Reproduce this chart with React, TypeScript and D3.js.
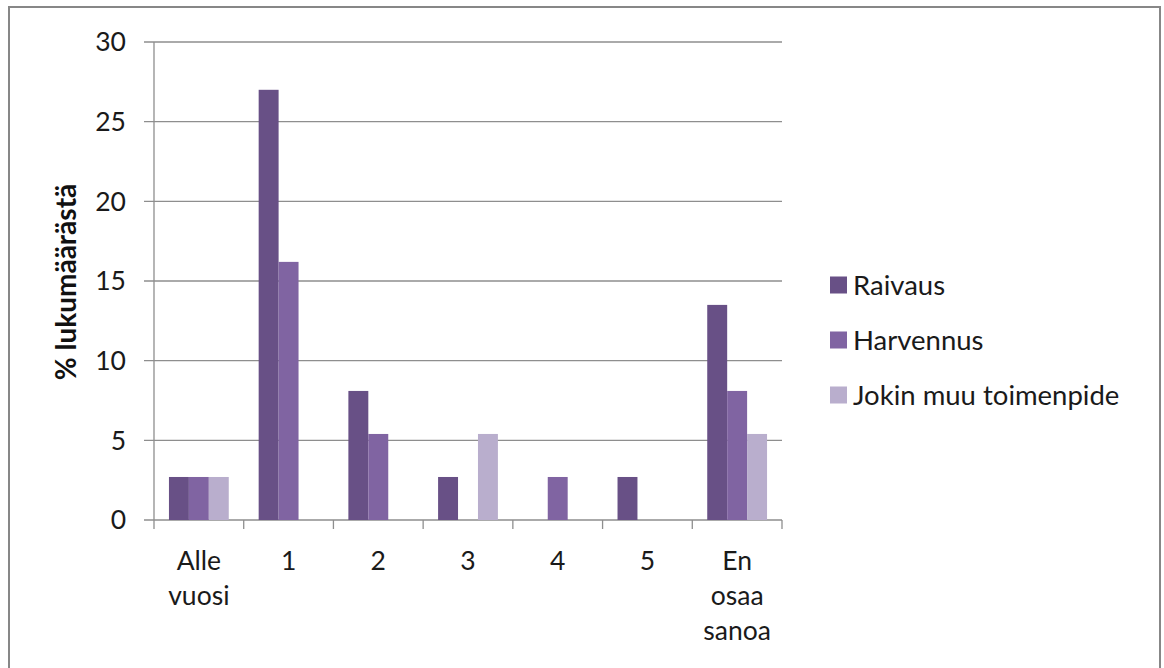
import React from "react";
import * as d3 from "d3";

const categories = ["Alle vuosi", "1", "2", "3", "4", "5", "En osaa sanoa"];
const seriesNames = ["Raivaus", "Harvennus", "Jokin muu toimenpide"];
const raivaus = [2.7, 27.0, 8.1, 2.7, 0, 2.7, 13.5];
const harvennus = [2.7, 16.2, 5.4, 0, 2.7, 0, 8.1];
const jokin = [2.7, 0, 0, 5.4, 0, 0, 5.4];
const yTicks = [0, 5, 10, 15, 20, 25, 30];
const colors = ["#685086", "#8064A2", "#B9AECD"];

const font = "Lato, 'Open Sans', sans-serif";

const App: React.FC = () => {
  const width = 1164;
  const height = 668;
  const plot = { left: 154, right: 782, top: 42, bottom: 520 };

  const x = d3
    .scaleBand<string>()
    .domain(categories)
    .range([plot.left, plot.right])
    .padding(0);
  const inner = d3
    .scaleBand<string>()
    .domain(seriesNames)
    .range([0, x.bandwidth()])
    .paddingInner(0)
    .paddingOuter(0.75);
  const y = d3.scaleLinear().domain([0, 30]).range([plot.bottom, plot.top]);

  const series = [raivaus, harvennus, jokin];
  const gridColor = "#8e8e8e";

  return (
    <svg
      width={width}
      height={height}
      style={{ position: "absolute", left: 0, top: 0, background: "#fff" }}
    >
      <rect
        x={9}
        y={7}
        width={1151}
        height={720}
        fill="none"
        stroke="#878787"
        strokeWidth={2}
      />

      {/* gridlines */}
      {yTicks.map((t) => (
        <line
          key={"g" + t}
          x1={plot.left - 10}
          x2={plot.right}
          y1={y(t)}
          y2={y(t)}
          stroke={gridColor}
          strokeWidth={1.3}
        />
      ))}
      {/* y axis */}
      <line
        x1={plot.left}
        x2={plot.left}
        y1={plot.top}
        y2={plot.bottom}
        stroke={gridColor}
        strokeWidth={1.3}
      />
      {yTicks.map((t) => (
        <text
          key={"yl" + t}
          x={126}
          y={y(t)}
          dy="0.35em"
          textAnchor="end"
          fontFamily={font}
          fontSize={26.5}
          fill="#1a1a1a"
        >
          {t}
        </text>
      ))}

      {/* x ticks */}
      {[...categories.map((c) => x(c)!), plot.right].map((px, i) => (
        <line
          key={"xt" + i}
          x1={px}
          x2={px}
          y1={plot.bottom}
          y2={plot.bottom + 9}
          stroke={gridColor}
          strokeWidth={1.3}
        />
      ))}

      {/* bars */}
      {categories.map((c, ci) =>
        series.map((s, si) =>
          s[ci] > 0 ? (
            <rect
              key={c + si}
              x={x(c)! + inner(seriesNames[si])!}
              y={y(s[ci])}
              width={inner.bandwidth()}
              height={y(0) - y(s[ci])}
              fill={colors[si]}
            />
          ) : null
        )
      )}

      {/* x labels */}
      {categories.map((c) => (
        <text
          key={"xl" + c}
          x={x(c)! + x.bandwidth() / 2}
          y={570}
          textAnchor="middle"
          fontFamily={font}
          fontSize={26.5}
          fill="#1a1a1a"
        >
          {c.split(" ").map((w, i) => (
            <tspan key={i} x={x(c)! + x.bandwidth() / 2} dy={i === 0 ? 0 : 35}>
              {w}
            </tspan>
          ))}
        </text>
      ))}

      {/* y axis title */}
      <text
        transform="translate(76,282) rotate(-90)"
        textAnchor="middle"
        fontFamily={font}
        fontSize={28}
        fontWeight="bold"
        fill="#111"
      >
        % lukumäärästä
      </text>

      {/* legend */}
      {seriesNames.map((n, i) => (
        <g key={n} transform={`translate(830,${285 + i * 55})`}>
          <rect x={0} y={-8.5} width={17} height={17} fill={colors[i]} />
          <text
            x={23}
            y={0}
            dy="0.35em"
            fontFamily={font}
            fontSize={27.5}
            fill="#1a1a1a"
          >
            {n}
          </text>
        </g>
      ))}
    </svg>
  );
};

export default App;
